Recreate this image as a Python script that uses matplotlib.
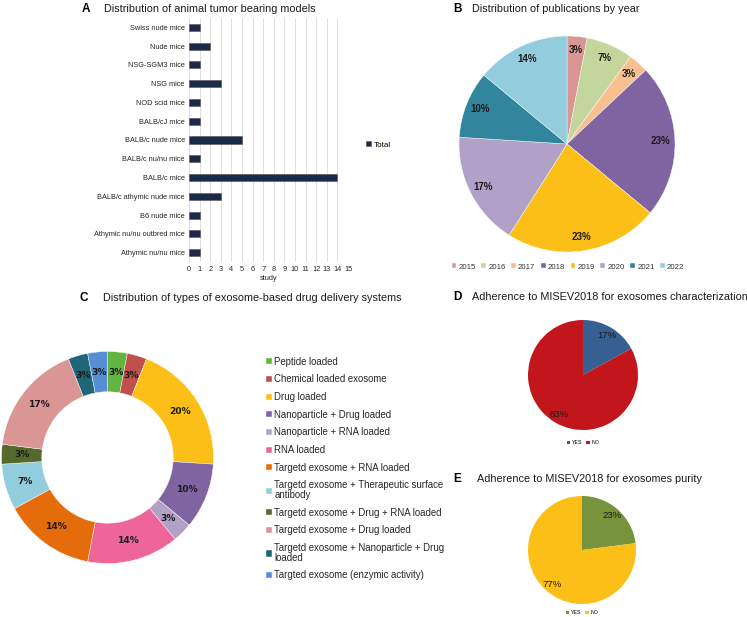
import matplotlib
matplotlib.use("Agg")
import matplotlib.pyplot as plt

plt.rcParams['font.family'] = ['Liberation Sans', 'DejaVu Sans']

W, H = 747, 617

# panel A data
mice = ['Swiss nude mice', 'Nude mice', 'NSG-SGM3 mice', 'NSG mice', 'NOD scid mice',
        'BALB/cJ mice', 'BALB/c nude mice', 'BALB/c nu/nu mice', 'BALB/c mice',
        'BALB/c athymic nude mice', 'B6 nude mice', 'Athymic nu/nu outbred mice',
        'Athymic nu/nu mice']
studies = [1, 2, 1, 3, 1, 1, 5, 1, 14, 3, 1, 1, 1]

# panel B data
years = ['2015', '2016', '2017', '2018', '2019', '2020', '2021', '2022']
year_pct = [3, 7, 3, 23, 23, 17, 10, 14]
year_colors = ['#d99694', '#c3d69b', '#f9bf8f', '#8064a2', '#fbbf18', '#b2a1c7', '#31859c', '#93cddd']

# panel C data
systems = ['Peptide loaded', 'Chemical loaded exosome', 'Drug loaded',
           'Nanoparticle + Drug loaded', 'Nanoparticle + RNA loaded', 'RNA loaded',
           'Targetd exosome + RNA loaded',
           'Targetd exosome + Therapeutic surface\nantibody',
           'Targetd exosome + Drug + RNA loaded', 'Targetd exosome + Drug loaded',
           'Targetd exosome + Nanoparticle + Drug\nloaded',
           'Targted exosome (enzymic activity)']
system_pct = [3, 3, 20, 10, 3, 14, 14, 7, 3, 17, 3, 3]
system_colors = ['#62b53f', '#c0504d', '#fbbf18', '#8064a2', '#b2a1c7', '#ee6699',
                 '#e46c0a', '#93cddd', '#56692d', '#d99694', '#1f6677', '#558ed5']

# panels D and E data
yes_no = ['YES', 'NO']
charact_pct = [17, 83]
charact_colors = ['#376092', '#c0161c']
purity_pct = [23, 77]
purity_colors = ['#77933c', '#fbbf18']


def box(x0, y0, x1, y1):
    return [x0 / W, 1 - y1 / H, (x1 - x0) / W, (y1 - y0) / H]


fig = plt.figure(figsize=(W / 100, H / 100), dpi=100)

# ---- A: bar chart
ax = fig.add_axes(box(189, 18, 348, 262))
ypos = list(range(len(mice)))[::-1]
bars = ax.barh(ypos, studies, height=0.38, color='#1b2a48', edgecolor='#555555',
               linewidth=0.4, label='Total', zorder=3)
ax.set_xlim(0, 15)
ax.set_ylim(-0.5, len(mice) - 0.5)
ax.set_xticks(range(16))
ax.set_yticks(ypos)
ax.set_yticklabels(mice, fontsize=5.3, color='#262626')
ax.tick_params(axis='x', labelsize=5.3, colors='#262626', length=0, pad=3)
ax.tick_params(axis='y', length=0, pad=3)
ax.grid(axis='x', color='#d9d9d9', linewidth=0.6, zorder=0)
for s in ax.spines.values():
    s.set_visible(False)
ax.set_xlabel('study', fontsize=5.3, color='#262626', labelpad=1)
fig.legend(handles=[bars], labels=['Total'], loc='center left', frameon=False,
           bbox_to_anchor=(362 / W, 1 - 145 / H), fontsize=5.8, handlelength=0.6,
           handleheight=0.6, handletextpad=0.3, borderpad=0)

# ---- B: pie by year
axb = fig.add_axes(box(459, 36, 675, 252))
wb, tb, ab = axb.pie(year_pct, colors=year_colors, startangle=90, counterclock=False,
                     autopct='%d%%', pctdistance=0.87,
                     wedgeprops=dict(edgecolor='white', linewidth=0.3),
                     textprops=dict(fontsize=7, fontweight='bold', color='#1a1a1a'))
axb.set_xlim(-1, 1)
axb.set_ylim(-1, 1)
fig.legend(handles=wb, labels=years, loc='center', ncol=8, frameon=False,
           bbox_to_anchor=(568 / W, 1 - 267 / H), fontsize=5.6, handlelength=0.6,
           handleheight=0.6, handletextpad=0.3, columnspacing=0.7, borderpad=0,
           labelcolor='#333333')

# ---- C: donut
axc = fig.add_axes(box(1.5, 351.5, 213.5, 563.5))
wc, tc, ac = axc.pie(system_pct, colors=system_colors, startangle=90, counterclock=False,
                     autopct='%d%%', pctdistance=0.81,
                     wedgeprops=dict(width=0.38, edgecolor='white', linewidth=0.3),
                     textprops=dict(fontsize=6.6, fontweight='bold', color='#1a1a1a',
                                    family='DejaVu Sans'))
axc.set_xlim(-1, 1)
axc.set_ylim(-1, 1)
leg = fig.legend(handles=wc, labels=systems, loc='upper left', frameon=False,
                 bbox_to_anchor=(261 / W, 1 - 352 / H), fontsize=6.9, handlelength=0.6,
                 handleheight=0.6, handletextpad=0.3, labelspacing=0.8, borderpad=0,
                 labelcolor='#262626')
for t in leg.get_texts():
    t.set_linespacing(0.95)

# ---- D: characterization
axd = fig.add_axes(box(528, 320, 638, 430))
wd, td, ad = axd.pie(charact_pct, colors=charact_colors, startangle=90, counterclock=False,
                     autopct='%d%%', pctdistance=0.84,
                     textprops=dict(fontsize=6.8, color='#1a1a1a'))
axd.set_xlim(-1, 1)
axd.set_ylim(-1, 1)
fig.legend(handles=wd, labels=yes_no, loc='center', ncol=2, frameon=False,
           bbox_to_anchor=(583 / W, 1 - 443 / H), fontsize=3.8, handlelength=0.6,
           handleheight=0.6, handletextpad=0.3, columnspacing=0.8, borderpad=0)

# ---- E: purity
axe = fig.add_axes(box(528, 496, 636, 604))
we, te, ae = axe.pie(purity_pct, colors=purity_colors, startangle=90, counterclock=False,
                     autopct='%d%%', pctdistance=0.84,
                     textprops=dict(fontsize=6.8, color='#1a1a1a'))
axe.set_xlim(-1, 1)
axe.set_ylim(-1, 1)
fig.legend(handles=we, labels=yes_no, loc='center', ncol=2, frameon=False,
           bbox_to_anchor=(582 / W, 1 - 613 / H), fontsize=3.8, handlelength=0.6,
           handleheight=0.6, handletextpad=0.3, columnspacing=0.8, borderpad=0)

# ---- panel letters and titles
titles = [
    ('A', 82, 104, 9, 'Distribution of animal tumor bearing models'),
    ('B', 453, 472, 9, 'Distribution of publications by year'),
    ('C', 80, 103, 298, 'Distribution of types of exosome-based drug delivery systems'),
    ('D', 453, 472, 297, 'Adherence to MISEV2018 for exosomes characterization'),
    ('E', 453, 477, 479, 'Adherence to MISEV2018 for exosomes purity'),
]
for letter, lx, tx, ty, text in titles:
    fig.text(lx / W, 1 - ty / H, letter, fontsize=8.5, fontweight='bold', va='center')
    fig.text(tx / W, 1 - ty / H, text, fontsize=7.8, va='center', color='#1a1a1a')

fig.savefig('out.png', dpi=100)
